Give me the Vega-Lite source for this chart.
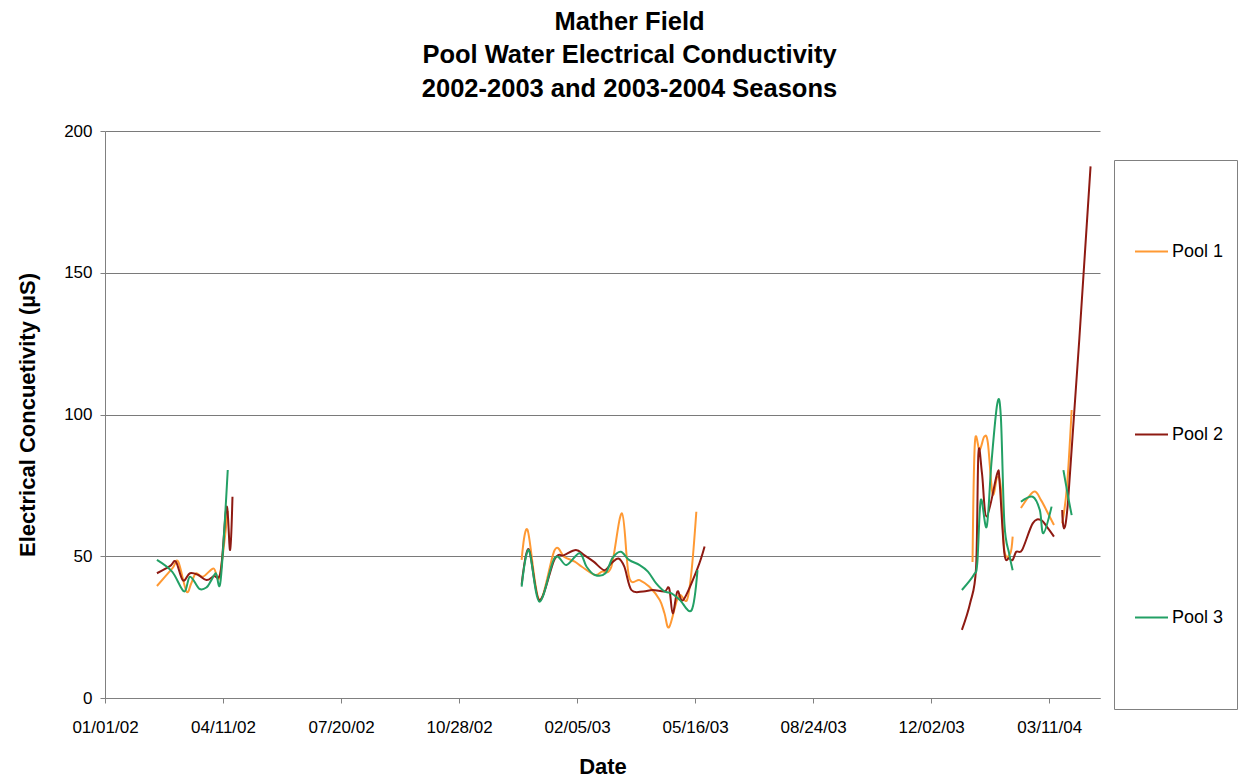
{
  "$schema": "https://vega.github.io/schema/vega-lite/v6.json",
  "width": 995,
  "height": 567,
  "autosize": {"type": "none"},
  "padding": {"left": 105, "top": 131, "right": 148, "bottom": 83},
  "background": "white",
  "title": {
    "text": ["Mather Field", "Pool Water Electrical Conductivity", "2002-2003 and 2003-2004 Seasons"],
    "font": "Liberation Sans",
    "fontSize": 25.5,
    "fontWeight": "bold",
    "lineHeight": 33.5,
    "color": "black",
    "anchor": "middle",
    "dx": 27,
    "offset": 20
  },
  "data": {
    "values": [
      {"pool": "Pool 1", "seg": "a", "date": "2002-02-14", "ec": 39.5},
      {"pool": "Pool 1", "seg": "a", "date": "2002-02-27", "ec": 45.7},
      {"pool": "Pool 1", "seg": "a", "date": "2002-03-04", "ec": 48.1},
      {"pool": "Pool 1", "seg": "a", "date": "2002-03-11", "ec": 37.6},
      {"pool": "Pool 1", "seg": "a", "date": "2002-03-15", "ec": 40.4},
      {"pool": "Pool 1", "seg": "a", "date": "2002-03-19", "ec": 44.0},
      {"pool": "Pool 1", "seg": "a", "date": "2002-03-25", "ec": 42.8},
      {"pool": "Pool 1", "seg": "a", "date": "2002-04-03", "ec": 45.7},
      {"pool": "Pool 1", "seg": "a", "date": "2002-04-08", "ec": 42.8},
      {"pool": "Pool 1", "seg": "a", "date": "2002-04-15", "ec": 66.0},
      {"pool": "Pool 1", "seg": "b", "date": "2002-12-20", "ec": 48.7},
      {"pool": "Pool 1", "seg": "b", "date": "2002-12-25", "ec": 59.3},
      {"pool": "Pool 1", "seg": "b", "date": "2003-01-04", "ec": 34.6},
      {"pool": "Pool 1", "seg": "b", "date": "2003-01-17", "ec": 52.2},
      {"pool": "Pool 1", "seg": "b", "date": "2003-01-25", "ec": 49.8},
      {"pool": "Pool 1", "seg": "b", "date": "2003-02-03", "ec": 48.1},
      {"pool": "Pool 1", "seg": "b", "date": "2003-02-09", "ec": 46.3},
      {"pool": "Pool 1", "seg": "b", "date": "2003-02-20", "ec": 43.4},
      {"pool": "Pool 1", "seg": "b", "date": "2003-02-26", "ec": 44.6},
      {"pool": "Pool 1", "seg": "b", "date": "2003-03-06", "ec": 46.3},
      {"pool": "Pool 1", "seg": "b", "date": "2003-03-15", "ec": 65.1},
      {"pool": "Pool 1", "seg": "b", "date": "2003-03-21", "ec": 42.8},
      {"pool": "Pool 1", "seg": "b", "date": "2003-03-30", "ec": 41.6},
      {"pool": "Pool 1", "seg": "b", "date": "2003-04-07", "ec": 39.3},
      {"pool": "Pool 1", "seg": "b", "date": "2003-04-16", "ec": 34.6},
      {"pool": "Pool 1", "seg": "b", "date": "2003-04-20", "ec": 29.9},
      {"pool": "Pool 1", "seg": "b", "date": "2003-04-24", "ec": 25.0},
      {"pool": "Pool 1", "seg": "b", "date": "2003-05-02", "ec": 36.0},
      {"pool": "Pool 1", "seg": "b", "date": "2003-05-09", "ec": 34.5},
      {"pool": "Pool 1", "seg": "b", "date": "2003-05-13", "ec": 45.0},
      {"pool": "Pool 1", "seg": "b", "date": "2003-05-17", "ec": 65.7},
      {"pool": "Pool 1", "seg": "c", "date": "2004-01-06", "ec": 48.0},
      {"pool": "Pool 1", "seg": "c", "date": "2004-01-08", "ec": 90.0},
      {"pool": "Pool 1", "seg": "c", "date": "2004-01-12", "ec": 87.5},
      {"pool": "Pool 1", "seg": "c", "date": "2004-01-16", "ec": 92.2},
      {"pool": "Pool 1", "seg": "c", "date": "2004-01-19", "ec": 90.0},
      {"pool": "Pool 1", "seg": "c", "date": "2004-01-23", "ec": 72.0},
      {"pool": "Pool 1", "seg": "c", "date": "2004-01-27", "ec": 78.0},
      {"pool": "Pool 1", "seg": "c", "date": "2004-01-30", "ec": 74.0},
      {"pool": "Pool 1", "seg": "c", "date": "2004-02-02", "ec": 52.0},
      {"pool": "Pool 1", "seg": "c", "date": "2004-02-07", "ec": 51.0},
      {"pool": "Pool 1", "seg": "c", "date": "2004-02-09", "ec": 56.9},
      {"pool": "Pool 1", "seg": "d", "date": "2004-02-16", "ec": 67.0},
      {"pool": "Pool 1", "seg": "d", "date": "2004-02-27", "ec": 72.8},
      {"pool": "Pool 1", "seg": "d", "date": "2004-03-04", "ec": 69.8},
      {"pool": "Pool 1", "seg": "d", "date": "2004-03-10", "ec": 65.1},
      {"pool": "Pool 1", "seg": "d", "date": "2004-03-15", "ec": 61.0},
      {"pool": "Pool 1", "seg": "e", "date": "2004-03-22", "ec": 61.6},
      {"pool": "Pool 1", "seg": "e", "date": "2004-03-26", "ec": 74.5},
      {"pool": "Pool 1", "seg": "e", "date": "2004-03-30", "ec": 101.6},

      {"pool": "Pool 2", "seg": "a", "date": "2002-02-14", "ec": 44.0},
      {"pool": "Pool 2", "seg": "a", "date": "2002-02-25", "ec": 46.5},
      {"pool": "Pool 2", "seg": "a", "date": "2002-03-02", "ec": 48.1},
      {"pool": "Pool 2", "seg": "a", "date": "2002-03-08", "ec": 41.5},
      {"pool": "Pool 2", "seg": "a", "date": "2002-03-14", "ec": 44.0},
      {"pool": "Pool 2", "seg": "a", "date": "2002-03-21", "ec": 43.4},
      {"pool": "Pool 2", "seg": "a", "date": "2002-03-28", "ec": 41.6},
      {"pool": "Pool 2", "seg": "a", "date": "2002-04-03", "ec": 43.0},
      {"pool": "Pool 2", "seg": "a", "date": "2002-04-09", "ec": 44.6},
      {"pool": "Pool 2", "seg": "a", "date": "2002-04-14", "ec": 67.5},
      {"pool": "Pool 2", "seg": "a", "date": "2002-04-17", "ec": 52.2},
      {"pool": "Pool 2", "seg": "a", "date": "2002-04-19", "ec": 71.0},
      {"pool": "Pool 2", "seg": "b", "date": "2002-12-20", "ec": 40.0},
      {"pool": "Pool 2", "seg": "b", "date": "2002-12-26", "ec": 52.5},
      {"pool": "Pool 2", "seg": "b", "date": "2003-01-04", "ec": 34.5},
      {"pool": "Pool 2", "seg": "b", "date": "2003-01-17", "ec": 49.0},
      {"pool": "Pool 2", "seg": "b", "date": "2003-01-25", "ec": 50.4},
      {"pool": "Pool 2", "seg": "b", "date": "2003-02-04", "ec": 52.2},
      {"pool": "Pool 2", "seg": "b", "date": "2003-02-11", "ec": 50.4},
      {"pool": "Pool 2", "seg": "b", "date": "2003-02-19", "ec": 48.1},
      {"pool": "Pool 2", "seg": "b", "date": "2003-02-28", "ec": 45.1},
      {"pool": "Pool 2", "seg": "b", "date": "2003-03-06", "ec": 47.5},
      {"pool": "Pool 2", "seg": "b", "date": "2003-03-12", "ec": 49.2},
      {"pool": "Pool 2", "seg": "b", "date": "2003-03-17", "ec": 46.3},
      {"pool": "Pool 2", "seg": "b", "date": "2003-03-23", "ec": 38.1},
      {"pool": "Pool 2", "seg": "b", "date": "2003-04-02", "ec": 37.6},
      {"pool": "Pool 2", "seg": "b", "date": "2003-04-10", "ec": 38.1},
      {"pool": "Pool 2", "seg": "b", "date": "2003-04-20", "ec": 37.6},
      {"pool": "Pool 2", "seg": "b", "date": "2003-04-24", "ec": 38.7},
      {"pool": "Pool 2", "seg": "b", "date": "2003-04-27", "ec": 29.9},
      {"pool": "Pool 2", "seg": "b", "date": "2003-05-01", "ec": 37.6},
      {"pool": "Pool 2", "seg": "b", "date": "2003-05-06", "ec": 34.6},
      {"pool": "Pool 2", "seg": "b", "date": "2003-05-18", "ec": 45.7},
      {"pool": "Pool 2", "seg": "b", "date": "2003-05-24", "ec": 53.4},
      {"pool": "Pool 2", "seg": "c", "date": "2003-12-28", "ec": 24.0},
      {"pool": "Pool 2", "seg": "c", "date": "2004-01-04", "ec": 33.5},
      {"pool": "Pool 2", "seg": "c", "date": "2004-01-09", "ec": 46.0},
      {"pool": "Pool 2", "seg": "c", "date": "2004-01-11", "ec": 86.3},
      {"pool": "Pool 2", "seg": "c", "date": "2004-01-14", "ec": 79.3},
      {"pool": "Pool 2", "seg": "c", "date": "2004-01-18", "ec": 64.0},
      {"pool": "Pool 2", "seg": "c", "date": "2004-01-27", "ec": 79.3},
      {"pool": "Pool 2", "seg": "c", "date": "2004-01-29", "ec": 75.7},
      {"pool": "Pool 2", "seg": "c", "date": "2004-02-02", "ec": 51.0},
      {"pool": "Pool 2", "seg": "c", "date": "2004-02-06", "ec": 49.3},
      {"pool": "Pool 2", "seg": "c", "date": "2004-02-09", "ec": 48.7},
      {"pool": "Pool 2", "seg": "c", "date": "2004-02-12", "ec": 51.6},
      {"pool": "Pool 2", "seg": "c", "date": "2004-02-17", "ec": 52.2},
      {"pool": "Pool 2", "seg": "c", "date": "2004-02-26", "ec": 61.6},
      {"pool": "Pool 2", "seg": "c", "date": "2004-03-04", "ec": 62.8},
      {"pool": "Pool 2", "seg": "c", "date": "2004-03-10", "ec": 59.8},
      {"pool": "Pool 2", "seg": "c", "date": "2004-03-15", "ec": 56.9},
      {"pool": "Pool 2", "seg": "d", "date": "2004-03-22", "ec": 66.3},
      {"pool": "Pool 2", "seg": "d", "date": "2004-03-27", "ec": 69.8},
      {"pool": "Pool 2", "seg": "d", "date": "2004-04-15", "ec": 187.5},

      {"pool": "Pool 3", "seg": "a", "date": "2002-02-14", "ec": 48.7},
      {"pool": "Pool 3", "seg": "a", "date": "2002-02-27", "ec": 44.5},
      {"pool": "Pool 3", "seg": "a", "date": "2002-03-09", "ec": 37.6},
      {"pool": "Pool 3", "seg": "a", "date": "2002-03-14", "ec": 42.8},
      {"pool": "Pool 3", "seg": "a", "date": "2002-03-22", "ec": 38.5},
      {"pool": "Pool 3", "seg": "a", "date": "2002-03-28", "ec": 39.0},
      {"pool": "Pool 3", "seg": "a", "date": "2002-04-01", "ec": 41.5},
      {"pool": "Pool 3", "seg": "a", "date": "2002-04-05", "ec": 44.0},
      {"pool": "Pool 3", "seg": "a", "date": "2002-04-09", "ec": 41.6},
      {"pool": "Pool 3", "seg": "a", "date": "2002-04-15", "ec": 80.4},
      {"pool": "Pool 3", "seg": "b", "date": "2002-12-20", "ec": 39.3},
      {"pool": "Pool 3", "seg": "b", "date": "2002-12-26", "ec": 52.2},
      {"pool": "Pool 3", "seg": "b", "date": "2003-01-04", "ec": 34.0},
      {"pool": "Pool 3", "seg": "b", "date": "2003-01-17", "ec": 49.4},
      {"pool": "Pool 3", "seg": "b", "date": "2003-01-27", "ec": 46.9},
      {"pool": "Pool 3", "seg": "b", "date": "2003-02-07", "ec": 51.1},
      {"pool": "Pool 3", "seg": "b", "date": "2003-02-13", "ec": 46.3},
      {"pool": "Pool 3", "seg": "b", "date": "2003-02-20", "ec": 43.4},
      {"pool": "Pool 3", "seg": "b", "date": "2003-03-01", "ec": 44.0},
      {"pool": "Pool 3", "seg": "b", "date": "2003-03-07", "ec": 49.4},
      {"pool": "Pool 3", "seg": "b", "date": "2003-03-14", "ec": 51.6},
      {"pool": "Pool 3", "seg": "b", "date": "2003-03-21", "ec": 48.7},
      {"pool": "Pool 3", "seg": "b", "date": "2003-03-30", "ec": 46.9},
      {"pool": "Pool 3", "seg": "b", "date": "2003-04-06", "ec": 44.6},
      {"pool": "Pool 3", "seg": "b", "date": "2003-04-13", "ec": 40.4},
      {"pool": "Pool 3", "seg": "b", "date": "2003-04-20", "ec": 37.6},
      {"pool": "Pool 3", "seg": "b", "date": "2003-04-26", "ec": 36.9},
      {"pool": "Pool 3", "seg": "b", "date": "2003-05-03", "ec": 34.6},
      {"pool": "Pool 3", "seg": "b", "date": "2003-05-13", "ec": 31.0},
      {"pool": "Pool 3", "seg": "b", "date": "2003-05-18", "ec": 45.1},
      {"pool": "Pool 3", "seg": "c", "date": "2003-12-28", "ec": 38.1},
      {"pool": "Pool 3", "seg": "c", "date": "2004-01-07", "ec": 43.4},
      {"pool": "Pool 3", "seg": "c", "date": "2004-01-10", "ec": 47.5},
      {"pool": "Pool 3", "seg": "c", "date": "2004-01-13", "ec": 69.8},
      {"pool": "Pool 3", "seg": "c", "date": "2004-01-18", "ec": 60.4},
      {"pool": "Pool 3", "seg": "c", "date": "2004-01-22", "ec": 82.8},
      {"pool": "Pool 3", "seg": "c", "date": "2004-01-27", "ec": 103.9},
      {"pool": "Pool 3", "seg": "c", "date": "2004-01-30", "ec": 99.2},
      {"pool": "Pool 3", "seg": "c", "date": "2004-02-02", "ec": 61.6},
      {"pool": "Pool 3", "seg": "c", "date": "2004-02-06", "ec": 51.0},
      {"pool": "Pool 3", "seg": "c", "date": "2004-02-09", "ec": 45.1},
      {"pool": "Pool 3", "seg": "d", "date": "2004-02-16", "ec": 69.2},
      {"pool": "Pool 3", "seg": "d", "date": "2004-02-26", "ec": 71.0},
      {"pool": "Pool 3", "seg": "d", "date": "2004-03-03", "ec": 66.3},
      {"pool": "Pool 3", "seg": "d", "date": "2004-03-06", "ec": 58.1},
      {"pool": "Pool 3", "seg": "d", "date": "2004-03-13", "ec": 67.5},
      {"pool": "Pool 3", "seg": "e", "date": "2004-03-23", "ec": 80.4},
      {"pool": "Pool 3", "seg": "e", "date": "2004-03-27", "ec": 71.0},
      {"pool": "Pool 3", "seg": "e", "date": "2004-03-30", "ec": 64.5}
    ]
  },
  "mark": {"type": "line", "interpolate": "cardinal", "strokeWidth": 2},
  "encoding": {
    "x": {
      "field": "date",
      "type": "temporal",
      "title": "Date",
      "scale": {
        "type": "utc",
        "domain": [
          {"year": 2002, "month": 1, "date": 1, "utc": true},
          {"year": 2004, "month": 4, "date": 23, "utc": true}
        ]
      },
      "axis": {
        "values": [
          {"year": 2002, "month": 1, "date": 1, "utc": true},
          {"year": 2002, "month": 4, "date": 11, "utc": true},
          {"year": 2002, "month": 7, "date": 20, "utc": true},
          {"year": 2002, "month": 10, "date": 28, "utc": true},
          {"year": 2003, "month": 2, "date": 5, "utc": true},
          {"year": 2003, "month": 5, "date": 16, "utc": true},
          {"year": 2003, "month": 8, "date": 24, "utc": true},
          {"year": 2003, "month": 12, "date": 2, "utc": true},
          {"year": 2004, "month": 3, "date": 11, "utc": true}
        ],
        "format": "%m/%d/%y",
        "grid": false,
        "labelAngle": 0,
        "labelOverlap": false,
        "labelFlush": false,
        "labelPadding": 16,
        "titlePadding": 21
      }
    },
    "y": {
      "field": "ec",
      "type": "quantitative",
      "title": "Electrical Concuetivity  (µS)",
      "scale": {"domain": [0, 200], "nice": false},
      "axis": {
        "values": [0, 50, 100, 150, 200],
        "grid": true,
        "gridColor": "#7a7a7a",
        "gridWidth": 1,
        "gridOpacity": 1,
        "labelPadding": 8,
        "titlePadding": 24
      }
    },
    "color": {
      "field": "pool",
      "type": "nominal",
      "scale": {"domain": ["Pool 1", "Pool 2", "Pool 3"], "range": ["#FF9933", "#8E1A12", "#22A065"]},
      "legend": {
        "orient": "none",
        "legendX": 1009,
        "legendY": 29,
        "title": "..",
        "titleOrient": "right",
        "titleColor": "white",
        "titleFontSize": 10,
        "titlePadding": 8,
        "padding": 0,
        "clipHeight": 183,
        "rowPadding": 0,
        "symbolType": "stroke",
        "symbolSize": 1089,
        "symbolStrokeWidth": 2,
        "symbolOffset": 20,
        "labelOffset": 3,
        "labelFont": "Liberation Sans",
        "labelFontSize": 18,
        "labelColor": "black",
        "strokeColor": "#808080"
      }
    },
    "detail": {"field": "seg", "type": "nominal"}
  },
  "config": {
    "view": {"stroke": null},
    "axis": {
      "domainColor": "#808080",
      "tickColor": "#808080",
      "tickSize": 5,
      "labelFont": "Liberation Sans",
      "labelFontSize": 17,
      "labelColor": "black",
      "titleFont": "Liberation Sans",
      "titleFontSize": 22,
      "titleFontWeight": "bold",
      "titleColor": "black"
    }
  }
}
